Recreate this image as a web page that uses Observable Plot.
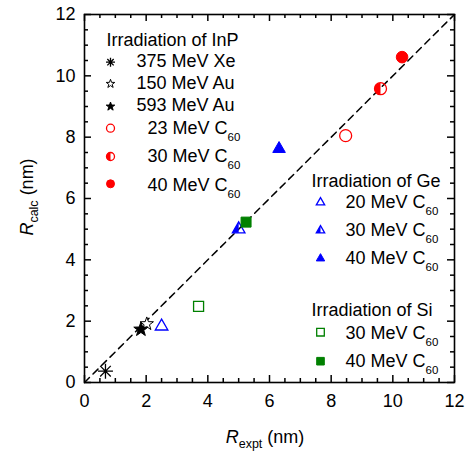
<!DOCTYPE html>
<html><head><meta charset="utf-8">
<script src="https://cdn.jsdelivr.net/npm/d3@7"></script>
<script src="https://cdn.jsdelivr.net/npm/@observablehq/plot@0.6"></script>
<style>html,body{margin:0;padding:0;background:#fff}</style>
</head><body><div id="chart"></div>
<script>
// ---------- data ----------
const groupTitles = ["Irradiation of InP", "Irradiation of Ge", "Irradiation of Si"];
const inpLabels = ["375 MeV Xe", "150 MeV Au", "593 MeV Au", "23 MeV C_60_", "30 MeV C_60_", "40 MeV C_60_"];
const inpX = [0.68, 2.02, 1.83, 8.47, 9.6, 10.3];
const inpY = [0.37, 1.91, 1.73, 8.05, 9.58, 10.61];
const geLabels = ["20 MeV C_60_", "30 MeV C_60_", "40 MeV C_60_"];
const geX = [2.5, 5.0, 6.31];
const geY = [1.83, 5.0, 7.62];
const siLabels = ["30 MeV C_60_", "40 MeV C_60_"];
const siX = [3.7, 5.24];
const siY = [2.48, 5.23];
const majorTicks = [0, 2, 4, 6, 8, 10, 12];
const minorTicks = [0.5, 1, 1.5, 2.5, 3, 3.5, 4.5, 5, 5.5, 6.5, 7, 7.5, 8.5, 9, 9.5, 10.5, 11, 11.5];
const diagonal = [0, 12];
const xLabel = "*R*_expt_ (nm)";
const yLabel = "*R*_calc_ (nm)";

// ---------- layout ----------
const W = 471, H = 455, ML = 84, MR = 17, MT = 14, MB = 73;
const FW = W - ML - MR, FH = H - MT - MB;
const FONT = "'Liberation Sans', Arial, Helvetica, sans-serif";
const FS = 18;

// ---------- symbols ----------
const sym = fn => ({draw(c, size) { fn(c, Math.sqrt(size / Math.PI)); }});
const asterisk8 = sym((c, r) => {
  for (let k = 0; k < 4; k++) {
    const a = k * Math.PI / 4, dx = r * Math.cos(a), dy = r * Math.sin(a);
    c.moveTo(dx, dy); c.lineTo(-dx, -dy);
  }
});
const star5 = sym((c, r) => {
  const ri = r * 0.4;
  for (let k = 0; k < 10; k++) {
    const a = -Math.PI / 2 + k * Math.PI / 5, rr = k % 2 ? ri : r;
    if (k) c.lineTo(rr * Math.cos(a), rr * Math.sin(a)); else c.moveTo(rr * Math.cos(a), rr * Math.sin(a));
  }
  c.closePath();
});
const circ = sym((c, r) => { c.moveTo(r, 0); c.arc(0, 0, r, 0, 2 * Math.PI); c.closePath(); });
const halfCircL = sym((c, r) => { c.moveTo(0, -r); c.arc(0, 0, r, -Math.PI / 2, Math.PI / 2, true); c.closePath(); });
const tri = sym((c, r) => { const h = Math.sqrt(3) * r; c.moveTo(0, -2 * h / 3); c.lineTo(r, h / 3); c.lineTo(-r, h / 3); c.closePath(); });
const halfTriL = sym((c, r) => { const h = Math.sqrt(3) * r; c.moveTo(0, -2 * h / 3); c.lineTo(0, h / 3); c.lineTo(-r, h / 3); c.closePath(); });
const sq = sym((c, r) => { c.moveTo(-r, -r); c.lineTo(r, -r); c.lineTo(r, r); c.lineTo(-r, r); c.closePath(); });

const RED = "#ff0000", BLUE = "#0000ff", GREEN = "#008000";
// each entry: list of layers {symbol, fill, stroke, sw, r (plot), lr (legend)}
const inpStyle = [
  [{symbol: asterisk8, fill: "none", stroke: "black", sw: 1.3, r: 7.5, lr: 4.5}],
  [{symbol: star5, fill: "white", stroke: "black", sw: 1, r: 7, lr: 4.5}],
  [{symbol: star5, fill: "black", stroke: "black", sw: 1, r: 7.5, lr: 4.5}],
  [{symbol: circ, fill: "none", stroke: RED, sw: 1.3, r: 6, lr: 4}],
  [{symbol: halfCircL, fill: RED, stroke: "none", sw: 0, r: 6, lr: 4}, {symbol: circ, fill: "none", stroke: RED, sw: 1.3, r: 6, lr: 4}],
  [{symbol: circ, fill: RED, stroke: RED, sw: 1, r: 5.8, lr: 4}]
];
const geStyle = [
  [{symbol: tri, fill: "none", stroke: BLUE, sw: 1.3, r: 6.3, lr: 4.2}],
  [{symbol: halfTriL, fill: BLUE, stroke: "none", sw: 0, r: 6.3, lr: 4.2}, {symbol: tri, fill: "none", stroke: BLUE, sw: 1.3, r: 6.3, lr: 4.2}],
  [{symbol: tri, fill: BLUE, stroke: BLUE, sw: 1, r: 6.3, lr: 4.2}]
];
const siStyle = [
  [{symbol: sq, fill: "none", stroke: GREEN, sw: 1.3, r: 5, lr: 3.8}],
  [{symbol: sq, fill: GREEN, stroke: GREEN, sw: 1, r: 5, lr: 3.8}]
];

// legend layout (svg pixels)
const legendLayout = [
  {title: [106, 45], mx: 110, my: [61.7, 83.3, 106, 127.7, 156, 183.3], tx: [136, 136, 136, 147, 147, 147], ty: [66.7, 88.3, 110.7, 133.3, 161.7, 190]},
  {title: [311, 186], mx: 320, my: [202, 230, 258], tx: [345, 345, 345], ty: [207, 235.5, 263.5]},
  {title: [311, 315], mx: 320, my: [331.7, 360.7], tx: [345, 345], ty: [338, 366]}
];

function pointMarks(xs, ys, styles) {
  const marks = [];
  xs.forEach((x, i) => {
    for (const L of styles[i]) {
      marks.push(Plot.dot([{x, y: ys[i]}], {x: "x", y: "y", symbol: L.symbol, r: L.r, fill: L.fill, stroke: L.stroke, strokeWidth: L.sw}));
    }
  });
  return marks;
}
function legendMarks(title, labels, styles, lay) {
  const marks = [Plot.text([title], {x: null, y: null, text: d => d, frameAnchor: "top-left", dx: lay.title[0] - ML, dy: lay.title[1] - MT, textAnchor: "start", lineAnchor: "bottom", fontSize: FS, fill: "black"})];
  labels.forEach((lab, i) => {
    for (const L of styles[i]) {
      marks.push(Plot.dot([0], {x: null, y: null, frameAnchor: "top-left", dx: lay.mx - ML, dy: lay.my[i] - MT, symbol: L.symbol, r: L.lr, fill: L.fill, stroke: L.stroke, strokeWidth: L.sw}));
    }
    marks.push(Plot.text([lab], {x: null, y: null, text: d => d, frameAnchor: "top-left", dx: lay.tx[i] - ML, dy: lay.ty[i] - MT, textAnchor: "start", lineAnchor: "bottom", fontSize: FS, fill: "black"}));
  });
  return marks;
}

const tickW = 1.5;
const chart = Plot.plot({
  width: W, height: H,
  marginLeft: ML, marginRight: MR, marginTop: MT, marginBottom: MB,
  x: {domain: [0, 12], label: null},
  y: {domain: [0, 12], label: null},
  style: {fontFamily: FONT, fontSize: FS + "px", background: "white", color: "black"},
  marks: [
    Plot.line(diagonal, {x: d => d, y: d => d, stroke: "black", strokeWidth: 1.5, strokeDasharray: "7,5"}),
    // inward ticks on all four sides
    Plot.ruleX(majorTicks, {x: d => d, insetTop: FH - 7, strokeWidth: tickW}),
    Plot.ruleX(minorTicks, {x: d => d, insetTop: FH - 4, strokeWidth: tickW}),
    Plot.ruleX(majorTicks, {x: d => d, insetBottom: FH - 7, strokeWidth: tickW}),
    Plot.ruleX(minorTicks, {x: d => d, insetBottom: FH - 4, strokeWidth: tickW}),
    Plot.ruleY(majorTicks, {y: d => d, insetRight: FW - 7, strokeWidth: tickW}),
    Plot.ruleY(minorTicks, {y: d => d, insetRight: FW - 4, strokeWidth: tickW}),
    Plot.ruleY(majorTicks, {y: d => d, insetLeft: FW - 7, strokeWidth: tickW}),
    Plot.ruleY(minorTicks, {y: d => d, insetLeft: FW - 4, strokeWidth: tickW}),
    Plot.axisX(majorTicks, {anchor: "bottom", tickSize: 0, tickPadding: 12, label: null, fontSize: FS}),
    Plot.axisY(majorTicks, {anchor: "left", tickSize: 0, tickPadding: 9, label: null, fontSize: FS}),
    Plot.frame({stroke: "black", strokeWidth: 1.6}),
    ...pointMarks(inpX, inpY, inpStyle),
    ...pointMarks(geX, geY, geStyle),
    ...pointMarks(siX, siY, siStyle),
    ...legendMarks(groupTitles[0], inpLabels, inpStyle, legendLayout[0]),
    ...legendMarks(groupTitles[1], geLabels, geStyle, legendLayout[1]),
    ...legendMarks(groupTitles[2], siLabels, siStyle, legendLayout[2]),
    Plot.text([xLabel], {x: null, y: null, text: d => d, frameAnchor: "bottom", dx: -4.5, dy: 60, textAnchor: "middle", lineAnchor: "bottom", fontSize: FS, fill: "black"}),
    Plot.text([yLabel], {x: null, y: null, text: d => d, frameAnchor: "left", dx: -52, dy: -1.5, rotate: -90, textAnchor: "middle", lineAnchor: "bottom", fontSize: FS, fill: "black"})
  ]
});

// rich text: *italic* and _subscript_
function rich(el) {
  const s = el.textContent;
  if (!/[*_]/.test(s)) return;
  const isAxis = s.startsWith("*");
  const subSize = isAxis ? 12.5 : 11.5, shift = isAxis ? 5 : 7;
  const parts = s.split(/(\*[^*]+\*|_[^_]+_)/).filter(p => p !== "");
  while (el.firstChild) el.removeChild(el.firstChild);
  let shifted = 0;
  for (const p of parts) {
    const t = document.createElementNS("http://www.w3.org/2000/svg", "tspan");
    if (p[0] === "_") {
      t.textContent = p.slice(1, -1);
      t.setAttribute("font-size", subSize);
      t.setAttribute("dy", shift - shifted);
      shifted = shift;
    } else {
      if (p[0] === "*") { t.textContent = p.slice(1, -1); t.setAttribute("font-style", "italic"); }
      else t.textContent = p;
      if (shifted) { t.setAttribute("dy", -shifted); shifted = 0; }
    }
    el.appendChild(t);
  }
}
chart.querySelectorAll("text").forEach(rich);
document.getElementById("chart").appendChild(chart);
</script>
</body></html>
